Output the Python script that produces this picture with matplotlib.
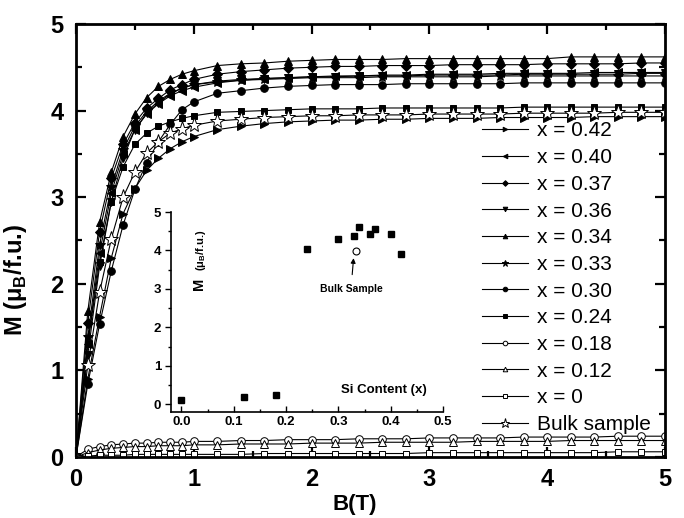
import matplotlib
matplotlib.use("Agg")
import matplotlib.pyplot as plt
from matplotlib.ticker import MultipleLocator

plt.rcParams["font.family"] = ["Liberation Sans", "DejaVu Sans"]
plt.rcParams["mathtext.fontset"] = "custom"
plt.rcParams["mathtext.rm"] = "Liberation Sans"
plt.rcParams["mathtext.bf"] = "Liberation Sans:bold"

# field sweep (T)
B_FIELD = [0, 0.1, 0.2, 0.3, 0.4, 0.5, 0.6, 0.7, 0.8, 0.9, 1.0,
           1.2, 1.4, 1.6, 1.8, 2.0, 2.2, 2.4, 2.6, 2.8, 3.0,
           3.2, 3.4, 3.6, 3.8, 4.0, 4.2, 4.4, 4.6, 4.8, 5.0]

# magnetization (mu_B / f.u.) for each Si content
M_042 = [0, 0.90, 1.62, 2.30, 2.81, 3.10, 3.31, 3.45, 3.56, 3.64, 3.70,
         3.78, 3.82, 3.85, 3.87, 3.88, 3.89, 3.89, 3.90, 3.90, 3.91,
         3.91, 3.91, 3.92, 3.92, 3.92, 3.92, 3.93, 3.93, 3.93, 3.93]
M_040 = [0, 1.30, 2.35, 3.05, 3.50, 3.78, 3.96, 4.08, 4.17, 4.23, 4.27,
         4.32, 4.35, 4.37, 4.38, 4.39, 4.40, 4.40, 4.41, 4.41, 4.42,
         4.42, 4.42, 4.43, 4.43, 4.43, 4.43, 4.44, 4.44, 4.44, 4.44]
M_037 = [0, 1.55, 2.60, 3.22, 3.61, 3.86, 4.03, 4.14, 4.24, 4.30, 4.36,
         4.42, 4.45, 4.47, 4.49, 4.50, 4.51, 4.51, 4.52, 4.52, 4.52,
         4.53, 4.53, 4.53, 4.53, 4.54, 4.54, 4.54, 4.54, 4.55, 4.55]
M_036 = [0, 1.18, 2.20, 2.95, 3.45, 3.78, 3.97, 4.09, 4.19, 4.26, 4.30,
         4.34, 4.36, 4.37, 4.38, 4.39, 4.39, 4.40, 4.40, 4.40, 4.41,
         4.41, 4.41, 4.41, 4.42, 4.42, 4.42, 4.42, 4.42, 4.43, 4.43]
M_034 = [0, 1.68, 2.71, 3.29, 3.70, 3.96, 4.15, 4.28, 4.36, 4.42, 4.46,
         4.52, 4.54, 4.55, 4.57, 4.58, 4.59, 4.59, 4.59, 4.60, 4.60,
         4.60, 4.60, 4.60, 4.60, 4.60, 4.62, 4.62, 4.62, 4.62, 4.62]
M_033 = [0, 1.38, 2.45, 3.12, 3.55, 3.82, 3.99, 4.11, 4.20, 4.26, 4.30,
         4.33, 4.35, 4.36, 4.37, 4.38, 4.38, 4.38, 4.39, 4.39, 4.39,
         4.39, 4.39, 4.40, 4.40, 4.40, 4.40, 4.40, 4.40, 4.40, 4.40]
M_030 = [0, 0.84, 1.53, 2.15, 2.68, 3.09, 3.40, 3.64, 3.84, 4.01, 4.10,
         4.20, 4.23, 4.26, 4.28, 4.29, 4.30, 4.30, 4.30, 4.31, 4.31,
         4.31, 4.31, 4.31, 4.32, 4.32, 4.32, 4.32, 4.32, 4.32, 4.32]
M_024 = [0, 1.30, 2.25, 2.95, 3.35, 3.61, 3.74, 3.82, 3.87, 3.91, 3.94,
         3.98, 3.99, 4.00, 4.01, 4.02, 4.02, 4.02, 4.03, 4.03, 4.03,
         4.03, 4.03, 4.03, 4.04, 4.04, 4.04, 4.04, 4.04, 4.04, 4.04]
M_018 = [0, 0.09, 0.12, 0.14, 0.15, 0.16, 0.16, 0.17, 0.17, 0.17, 0.18,
         0.18, 0.19, 0.19, 0.20, 0.20, 0.20, 0.21, 0.21, 0.21, 0.22,
         0.22, 0.22, 0.22, 0.23, 0.23, 0.23, 0.23, 0.24, 0.24, 0.24]
M_012 = [0, 0.05, 0.08, 0.10, 0.11, 0.12, 0.12, 0.13, 0.13, 0.13, 0.14,
         0.14, 0.15, 0.15, 0.15, 0.16, 0.16, 0.16, 0.17, 0.17, 0.17,
         0.17, 0.18, 0.18, 0.18, 0.18, 0.19, 0.19, 0.19, 0.19, 0.19]
M_000 = [0, 0.01, 0.02, 0.02, 0.02, 0.03, 0.03, 0.03, 0.03, 0.03, 0.03,
         0.03, 0.03, 0.04, 0.04, 0.04, 0.04, 0.04, 0.04, 0.04, 0.05,
         0.05, 0.05, 0.05, 0.05, 0.05, 0.05, 0.05, 0.06, 0.06, 0.06]
M_BULK = [0, 1.06, 1.90, 2.52, 3.00, 3.29, 3.51, 3.64, 3.74, 3.79, 3.83,
          3.88, 3.90, 3.92, 3.93, 3.94, 3.94, 3.95, 3.95, 3.95, 3.96,
          3.96, 3.96, 3.96, 3.97, 3.97, 3.97, 3.97, 3.98, 3.98, 3.98]

# inset: magnetization at 5 T vs Si content
SI_CONTENT = [0.0, 0.12, 0.18, 0.24, 0.30, 0.33, 0.34, 0.36, 0.37, 0.40, 0.42]
M_AT_5T = [0.10, 0.18, 0.23, 4.04, 4.31, 4.38, 4.62, 4.43, 4.55, 4.43, 3.92]
BULK_SI = 0.333
BULK_M = 3.98

series = [
    ("x = 0.42", M_042, ">", "black", 5.5),
    ("x = 0.40", M_040, "<", "black", 5.5),
    ("x = 0.37", M_037, "D", "black", 4.8),
    ("x = 0.36", M_036, "v", "black", 5.5),
    ("x = 0.34", M_034, "^", "black", 5.5),
    ("x = 0.33", M_033, "*", "black", 7.5),
    ("x = 0.30", M_030, "o", "black", 5.5),
    ("x = 0.24", M_024, "s", "black", 5),
    ("x = 0.18", M_018, "o", "white", 5.5),
    ("x = 0.12", M_012, "^", "white", 5.5),
    ("x = 0", M_000, "s", "white", 5),
    ("Bulk sample", M_BULK, "*", "white", 11),
]

fig = plt.figure(figsize=(6.84, 5.18), dpi=100)
ax = fig.add_axes([0.1111, 0.1178, 0.8611, 0.8359])

for label, m, marker, face, size in series:
    ax.plot(B_FIELD, m, color="black", lw=0.8, marker=marker, ms=size,
            mfc=face, mec="black", mew=0.7, label=label)

ax.set_xlim(0, 5)
ax.set_ylim(0, 5)
ax.xaxis.set_major_locator(MultipleLocator(1))
ax.yaxis.set_major_locator(MultipleLocator(1))
ax.xaxis.set_minor_locator(MultipleLocator(0.5))
ax.yaxis.set_minor_locator(MultipleLocator(0.5))
ax.tick_params(which="both", direction="in", top=True, right=True, width=1.6)
ax.tick_params(which="major", length=7, labelsize=17)
ax.tick_params(axis="x", which="major", pad=8)
ax.tick_params(axis="y", which="major", pad=9)
ax.tick_params(which="minor", length=4)
for lab in ax.get_xticklabels() + ax.get_yticklabels():
    lab.set_fontweight("bold")
for sp in ax.spines.values():
    sp.set_linewidth(2.0)

ax.set_xlabel("B(T)", fontsize=16, fontweight="bold")
ax.xaxis.set_label_coords(0.474, -0.085)
ax.set_ylabel(r"M (μ$_{\mathbf{B}}$/f.u.)", fontsize=17, fontweight="bold")
ax.yaxis.set_label_coords(-0.08, 0.41)

ax.legend(loc="upper left", bbox_to_anchor=(0.69, 0.775), frameon=False,
          fontsize=15, markerscale=0.6, handlelength=2.2, handletextpad=0.4,
          labelspacing=0.37, borderpad=0, borderaxespad=0)

# inset
axin = fig.add_axes([0.25, 0.2046, 0.3977, 0.3861])
axin.set_facecolor("none")
axin.plot(SI_CONTENT, M_AT_5T, ls="none", marker="s", ms=5, color="black")
axin.plot([BULK_SI], [BULK_M], ls="none", marker="o", ms=5, mfc="white",
          mec="black", mew=0.8)
axin.set_xlim(-0.02, 0.5)
axin.set_ylim(-0.2, 5.0)
axin.spines["top"].set_visible(False)
axin.spines["right"].set_visible(False)
axin.spines["left"].set_linewidth(1.2)
axin.spines["bottom"].set_linewidth(1.2)
axin.xaxis.set_major_locator(MultipleLocator(0.1))
axin.xaxis.set_minor_locator(MultipleLocator(0.05))
axin.yaxis.set_major_locator(MultipleLocator(1))
axin.yaxis.set_minor_locator(MultipleLocator(0.5))
axin.tick_params(axis="x", which="both", direction="in", width=1.0)
axin.tick_params(axis="y", which="both", direction="out", width=1.0)
axin.tick_params(which="major", length=4, labelsize=9.5, pad=3)
axin.tick_params(which="minor", length=2.5)
axin.xaxis.set_major_formatter(plt.FormatStrFormatter("%.1f"))
for lab in axin.get_xticklabels() + axin.get_yticklabels():
    lab.set_fontweight("bold")

axin.text(0.034, 3.14, "M", rotation=90, ha="center", va="center",
          fontsize=10.5, fontweight="bold")
axin.text(0.037, 4.01, r"(μ$_{\mathbf{B}}$/f.u.)", rotation=90, ha="center",
          va="center", fontsize=8, fontweight="bold")
axin.text(0.386, 0.38, "Si Content (x)", ha="center", va="center",
          fontsize=9.5, fontweight="bold")
axin.annotate("Bulk Sample", xy=(0.329, 3.80), xytext=(0.324, 2.99),
              ha="center", va="center", fontsize=7.5, fontweight="bold",
              arrowprops=dict(arrowstyle="-|>", color="black", lw=0.8,
                              mutation_scale=7, shrinkA=5, shrinkB=0))

fig.savefig("out.png", dpi=100)
